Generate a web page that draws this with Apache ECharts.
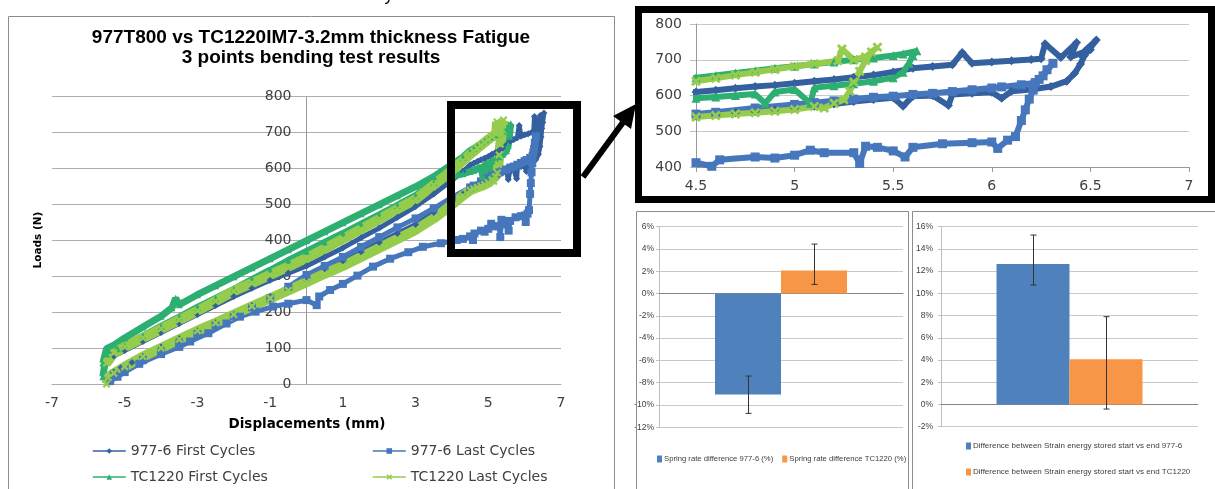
<!DOCTYPE html>
<html>
<head>
<meta charset="utf-8">
<script src="https://cdn.jsdelivr.net/npm/echarts@6/dist/echarts.min.js"></script>
<style>
  html, body { margin: 0; padding: 0; background: #fff; }
  #main { width: 1215px; height: 489px; }
</style>
</head>
<body>
<div id="main"></div>
<script>
// ---- fatigue loops (displacement mm, load N) ----
var first977 = [
  [-5.3,35],[-5.1,48],[-4.8,62],[-4.5,78],[-4,105],[-3.5,128],[-3,150],[-2.5,172],[-2,195],[-1.5,220],
  [-1,245],[-0.5,268],[0,290],[0.5,315],[1,340],[1.5,368],[2,395],[2.5,420],[3,445],[3.5,478],
  [4,510],[4.3,530],[4.5,543],[4.6,548],[4.7,552],[4.8,556],[4.9,560],[5,565],[5.1,570],[5.2,576],
  [5.3,583],[5.4,589],[5.5,594],[5.55,570],[5.6,598],[5.7,600],[5.78,572],[5.8,603],[5.9,606],[6,609],
  [6.05,592],[6.1,612],[6.2,617],[6.3,625],[6.38,640],[6.42,662],[6.45,688],[6.47,712],
  [6.53,755],[6.45,714],[6.5,728],[6.4,708],[6.43,748],[6.35,706],[6.27,745],[6.25,703],[6.2,701],
  [6.1,697],[6,694],[5.9,690],[5.85,720],[5.8,686],[5.7,681],[5.6,676],[5.5,666],[5.4,657],[5.3,651],
  [5.2,645],[5.1,640],[5,634],[4.9,629],[4.8,625],[4.7,620],[4.6,615],[4.5,610],[4.3,592],[4,568],
  [3.5,530],[3,495],[2.5,465],[2,435],[1.5,408],[1,380],[0.5,355],[0,330],[-0.5,310],[-1,290],
  [-1.5,268],[-2,245],[-2.5,220],[-3,195],[-3.5,170],[-4,145],[-4.5,120],[-5,95],[-5.3,80]
];
var last977 = [
  [-5.4,10],[-5.2,22],[-5,35],[-4.6,58],[-4,85],[-3.5,105],[-3.2,120],[-2.7,143],[-2.2,170],[-1.83,189],
  [-1.4,203],[-0.92,217],[-0.5,225],[0,235],[0.28,221],[0.35,245],[0.65,263],[1,280],[1.4,303],[1.83,328],
  [2.3,350],[2.8,368],[3.2,383],[3.7,393],[4.13,402],[4.3,405],[4.5,412],[4.58,402],[4.62,420],
  [4.8,428],[4.9,425],[5,433],[5.08,447],[5.15,440],[5.3,440],[5.33,410],[5.36,458],[5.42,455],[5.5,445],
  [5.56,428],[5.6,455],[5.75,465],[5.9,468],[6,470],[6.03,452],[6.08,475],[6.12,485],[6.15,530],[6.17,560],
  [6.19,590],[6.21,615],[6.24,645],[6.28,672],[6.31,690],
  [6.26,655],[6.22,636],[6.15,630],[6.05,624],[6,621],[5.9,616],[5.8,611],[5.7,606],[5.6,603],[5.5,598],
  [5.4,595],[5.3,590],[5.2,585],[5.1,580],[5,575],[4.8,565],[4.6,553],[4.5,548],[4,520],[3.5,490],
  [3,462],[2.5,437],[2,410],[1.5,383],[1,355],[0.5,330],[0,305],[-0.5,272],[-1,240],[-1.5,215],
  [-2,190],[-2.5,165],[-3,140],[-3.5,115],[-4,90],[-4.5,68],[-5,45],[-5.3,30]
];
var firstTC = [
  [-5.6,22],[-5.55,55],[-5.5,85],[-5.4,95],[-5.2,100],[-5,108],[-4.5,135],[-4,162],[-3.5,188],[-3,215],
  [-2.5,240],[-2,265],[-1.5,292],[-1,318],[-0.5,345],[0,370],[0.5,395],[1,420],[1.5,446],[2,472],
  [2.5,498],[3,525],[3.5,560],[4,578],[4.3,586],[4.5,592],[4.6,596],[4.7,600],[4.8,604],[4.85,578],
  [4.9,610],[5,617],[5.08,578],[5.1,622],[5.2,627],[5.3,633],[5.4,640],[5.5,650],[5.55,665],[5.58,690],
  [5.6,712],[5.62,725],
  [5.55,716],[5.5,712],[5.4,705],[5.3,700],[5.2,694],[5.1,688],[5,682],[4.9,676],[4.8,669],[4.7,663],
  [4.6,656],[4.5,650],[4.3,632],[4,612],[3.5,578],[3,550],[2.5,525],[2,500],[1.5,475],[1,450],
  [0.5,425],[0,400],[-0.5,375],[-1,350],[-1.5,325],[-2,300],[-2.5,275],[-3,250],[-3.5,222],[-3.6,240],
  [-3.7,214],[-4,190],[-4.5,160],[-5,130],[-5.3,110],[-5.5,100],[-5.6,60]
];
var lastTC = [
  [-5.5,2],[-5.45,20],[-5.3,32],[-5,50],[-4.5,78],[-4,102],[-3.5,126],[-3,150],[-2.5,172],[-2,195],
  [-1.5,218],[-1,240],[-0.5,262],[0,285],[0.5,308],[1,330],[1.5,355],[2,380],[2.5,405],[3,430],
  [3.5,462],[4,500],[4.3,525],[4.5,540],[4.6,544],[4.7,548],[4.8,552],[4.9,556],[5,561],[5.1,569],
  [5.15,565],[5.2,578],[5.25,588],[5.28,612],[5.3,638],[5.33,668],[5.36,698],[5.39,722],[5.42,735],
  [5.36,708],[5.3,700],[5.24,730],[5.22,697],[5.1,689],[5,681],[4.9,673],[4.8,665],[4.7,657],[4.6,648],
  [4.5,640],[4.3,622],[4,595],[3.5,555],[3,515],[2.5,488],[2,460],[1.5,432],[1,405],[0.5,378],
  [0,352],[-0.5,328],[-1,305],[-1.5,282],[-2,260],[-2.5,232],[-3,205],[-3.5,180],[-4,155],[-4.5,130],
  [-5,105],[-5.3,88],[-5.5,60]
];
var loopNames = ['977-6 First Cycles', '977-6 Last Cycles', 'TC1220 First Cycles', 'TC1220 Last Cycles'];
var mainXTicks = [-7, -5, -3, -1, 1, 3, 5, 7];

// ---- bar charts (%) ----
var springNames = ['Spring rate difference 977-6 (%)', 'Spring rate difference TC1220 (%)'];
var springValues = [-9.05, 2.08];
var springErrLow = [-10.75, 0.82];
var springErrHigh = [-7.4, 4.44];
var energyNames = ['Difference between Strain energy stored start vs end 977-6',
                   'Difference between Strain energy stored start vs end TC1220'];
var energyValues = [12.64, 4.06];
var energyErrLow = [10.75, -0.41];
var energyErrHigh = [15.25, 7.9];

var loopColors = ['#34609F', '#4677BC', '#2EAF72', '#96CC4C'];
var xMark = 'path://M0,2L2,0L5,3L8,0L10,2L7,5L10,8L8,10L5,7L2,10L0,8L3,5Z';
var loopSymbols = ['diamond', 'rect', 'triangle', xMark];
var loopData = [first977, last977, firstTC, lastTC];
var overviewWidth = [5, 5, 7, 10];
var overviewSymbol = [7, 8, 7, 8];
var barBlue = '#4F81BD', barOrange = '#F79646';
var smallFont = "'Liberation Sans', sans-serif";

var chart = echarts.init(document.getElementById('main'));

var series = [];
// overview
for (var i = 0; i < 4; i++) {
  series.push({
    type: 'line', name: loopNames[i], xAxisIndex: 0, yAxisIndex: 0,
    data: loopData[i], symbol: loopSymbols[i], symbolSize: overviewSymbol[i],
    showAllSymbol: true,
    itemStyle: { color: loopColors[i] },
    lineStyle: { color: loopColors[i], width: overviewWidth[i] }
  });
}
// zoomed inset
for (var i = 0; i < 4; i++) {
  series.push({
    type: 'line', name: loopNames[i], xAxisIndex: 1, yAxisIndex: 1,
    data: loopData[i], symbol: loopSymbols[i], symbolSize: i == 3 ? 10 : 9,
    showAllSymbol: true, clip: true,
    itemStyle: { color: loopColors[i] },
    lineStyle: { color: loopColors[i], width: 6 }
  });
}

function errBars(axis, low, high, barW) {
  var d = [];
  for (var k = 0; k < low.length; k++) d.push([0, low[k], high[k]]);
  return {
    type: 'custom', name: 'err' + axis, xAxisIndex: axis, yAxisIndex: axis, z: 10,
    data: d, encode: { x: 0, y: [1, 2] },
    renderItem: function (params, api) {
      var off = (params.dataIndex === 0 ? -1 : 1) * barW / 2;
      var lo = api.coord([api.value(0), api.value(1)]);
      var hi = api.coord([api.value(0), api.value(2)]);
      var x = Math.round(lo[0] + off) + 0.5;
      var st = { stroke: '#333', lineWidth: 1 };
      return { type: 'group', children: [
        { type: 'line', shape: { x1: x, y1: lo[1], x2: x, y2: hi[1] }, style: st },
        { type: 'line', shape: { x1: x - 3, y1: lo[1], x2: x + 3, y2: lo[1] }, style: st },
        { type: 'line', shape: { x1: x - 3, y1: hi[1], x2: x + 3, y2: hi[1] }, style: st }
      ] };
    }
  };
}

series.push({ type: 'bar', name: springNames[0], xAxisIndex: 2, yAxisIndex: 2, data: [springValues[0]],
  barWidth: 66, barGap: '0%', itemStyle: { color: barBlue } });
series.push({ type: 'bar', name: springNames[1], xAxisIndex: 2, yAxisIndex: 2, data: [springValues[1]],
  barWidth: 66, barGap: '0%', itemStyle: { color: barOrange } });
series.push(errBars(2, springErrLow, springErrHigh, 66));
series.push({ type: 'bar', name: energyNames[0], xAxisIndex: 3, yAxisIndex: 3, data: [energyValues[0]],
  barWidth: 73, barGap: '0%', itemStyle: { color: barBlue } });
series.push({ type: 'bar', name: energyNames[1], xAxisIndex: 3, yAxisIndex: 3, data: [energyValues[1]],
  barWidth: 73, barGap: '0%', itemStyle: { color: barOrange } });
series.push(errBars(3, energyErrLow, energyErrHigh, 73));

var labelStyle = { fontFamily: 'DejaVu Sans', fontSize: 14, color: '#404040' };
var gridGray = '#ADADAD';

function loopLegend(name, left, top) {
  return { data: [name], left: left, top: top, padding: 0, itemWidth: 33, itemHeight: 7,
    lineStyle: { width: 1.5 }, textStyle: labelStyle, selectedMode: false };
}

var option = {
  animation: false,
  backgroundColor: '#fff',
  grid: [
    { left: 52, top: 96.7, width: 509, height: 288 },
    { left: 696, top: 24, width: 493, height: 143 },
    { left: 659, top: 226.7, width: 244, height: 200.6 },
    { left: 941, top: 226.7, width: 257, height: 200 }
  ],
  xAxis: [
    { gridIndex: 0, type: 'value', min: -7, max: 7, interval: 1,
      axisLine: { lineStyle: { color: gridGray } }, axisTick: { show: false }, splitLine: { show: false },
      axisLabel: Object.assign({ margin: 12, formatter: function (v) { return mainXTicks.indexOf(v) >= 0 ? String(v) : ''; } }, labelStyle) },
    { gridIndex: 1, type: 'value', min: 4.5, max: 7, interval: 0.5,
      axisLine: { lineStyle: { color: '#999' } }, axisTick: { show: true, length: 5, lineStyle: { color: '#999' } },
      splitLine: { show: false }, axisLabel: Object.assign({ margin: 12 }, labelStyle) },
    { gridIndex: 2, type: 'category', data: ['s'], axisLine: { lineStyle: { color: '#868686' } },
      axisTick: { show: false }, axisLabel: { show: false } },
    { gridIndex: 3, type: 'category', data: ['e'], axisLine: { lineStyle: { color: '#868686' } },
      axisTick: { show: false }, axisLabel: { show: false } }
  ],
  yAxis: [
    // vertical axis drawn where x = 0 (Excel style crossing)
    { gridIndex: 0, type: 'value', min: 0, max: 800, interval: 100, offset: -254.5,
      axisLine: { show: true, onZero: false, lineStyle: { color: '#999' } }, axisTick: { show: false },
      splitLine: { lineStyle: { color: gridGray } }, axisLabel: Object.assign({ margin: 15 }, labelStyle) },
    { gridIndex: 1, type: 'value', min: 400, max: 800, interval: 100,
      axisLine: { show: true, lineStyle: { color: '#999' } }, axisTick: { show: true, length: 6, lineStyle: { color: '#bbb' } },
      splitLine: { lineStyle: { color: '#C8C8C8' } }, axisLabel: Object.assign({ margin: 14 }, labelStyle) },
    { gridIndex: 2, type: 'value', min: -12, max: 6, interval: 2,
      axisLine: { show: true, lineStyle: { color: '#BFBFBF' } }, axisTick: { show: true, length: 3, lineStyle: { color: '#BFBFBF' } },
      splitLine: { lineStyle: { color: '#C8C8C8' } },
      axisLabel: { margin: 5, formatter: '{value}%', fontFamily: smallFont, fontSize: 8.5, color: '#404040' } },
    { gridIndex: 3, type: 'value', min: -2, max: 16, interval: 2,
      axisLine: { show: true, lineStyle: { color: '#BFBFBF' } }, axisTick: { show: true, length: 3, lineStyle: { color: '#BFBFBF' } },
      splitLine: { lineStyle: { color: '#C8C8C8' } },
      axisLabel: { margin: 8, formatter: '{value}%', fontFamily: smallFont, fontSize: 8.5, color: '#404040' } }
  ],
  legend: [
    loopLegend(loopNames[0], 92, 444),
    loopLegend(loopNames[1], 372, 444),
    loopLegend(loopNames[2], 92, 470),
    loopLegend(loopNames[3], 372, 470),
    { data: springNames, left: 657, top: 455, padding: 0, itemGap: 9, itemWidth: 5, itemHeight: 7, icon: 'rect',
      selectedMode: false, textStyle: { fontFamily: smallFont, fontSize: 7.7, color: '#404040', padding: [0, 0, 0, -3] } },
    { data: energyNames, orient: 'vertical', left: 966, top: 442, padding: 0, itemGap: 18, itemWidth: 5, itemHeight: 7, icon: 'rect',
      selectedMode: false, textStyle: { fontFamily: smallFont, fontSize: 8, color: '#404040', padding: [0, 0, 0, -3] } }
  ],
  graphic: [
    // panel frames
    { type: 'rect', shape: { x: 8.5, y: 16.5, width: 606, height: 490 }, style: { fill: 'none', stroke: '#8c8c8c', lineWidth: 1 }, z: 1 },
    { type: 'rect', shape: { x: 636.5, y: 211.5, width: 272, height: 290 }, style: { fill: 'none', stroke: '#8c8c8c', lineWidth: 1 }, z: 1 },
    { type: 'rect', shape: { x: 912.5, y: 211.5, width: 320, height: 290 }, style: { fill: 'none', stroke: '#8c8c8c', lineWidth: 1 }, z: 1 },
    // zoom box, inset frame and arrow
    { type: 'rect', shape: { x: 451, y: 105, width: 126, height: 148 }, style: { fill: 'none', stroke: '#000', lineWidth: 8 }, z: 100 },
    { type: 'rect', shape: { x: 638.5, y: 9.5, width: 573, height: 190 }, style: { fill: 'none', stroke: '#000', lineWidth: 7 }, z: 100 },
    { type: 'line', shape: { x1: 583, y1: 177, x2: 624, y2: 121 }, style: { stroke: '#000', lineWidth: 6 }, z: 100 },
    { type: 'polygon', shape: { points: [[636, 104], [631, 129], [613, 116]] }, style: { fill: '#000' }, z: 100 },
    // texts
    { type: 'text', x: 311, y: 38, z: 50, style: { text: '977T800 vs TC1220IM7-3.2mm thickness Fatigue',
      font: 'bold 19px "Liberation Sans"', fill: '#000', align: 'center', verticalAlign: 'middle',
      textAlign: 'center', textVerticalAlign: 'middle' } },
    { type: 'text', x: 311, y: 58, z: 50, style: { text: '3 points bending test results',
      font: 'bold 19px "Liberation Sans"', fill: '#000', align: 'center', verticalAlign: 'middle',
      textAlign: 'center', textVerticalAlign: 'middle' } },
    { type: 'text', x: 307, y: 424, z: 50, style: { text: 'Displacements (mm)',
      font: 'bold 13.5px "DejaVu Sans"', fill: '#000', align: 'center', verticalAlign: 'middle',
      textAlign: 'center', textVerticalAlign: 'middle' } },
    { type: 'text', x: 38, y: 240, rotation: Math.PI / 2, z: 50, style: { text: 'Loads (N)',
      font: 'bold 10.5px "DejaVu Sans"', fill: '#000', align: 'center', verticalAlign: 'middle',
      textAlign: 'center', textVerticalAlign: 'middle' } },
    { type: 'text', x: 389, y: 4, z: 50, style: { text: 'y', font: '18px "Liberation Sans"', fill: '#000',
      align: 'center', verticalAlign: 'bottom', textAlign: 'center', textVerticalAlign: 'bottom' } }
  ],
  series: series
};

chart.setOption(option);
</script>
</body>
</html>
